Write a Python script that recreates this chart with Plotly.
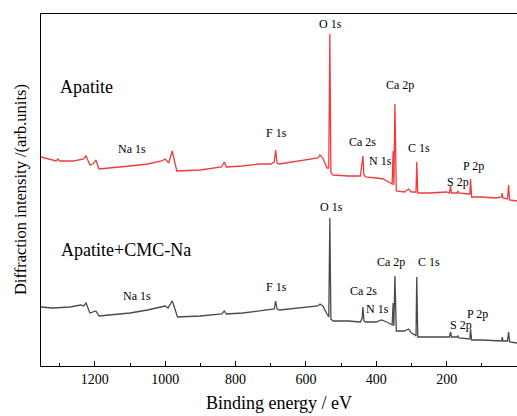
import plotly.graph_objects as go

# Binding energy (eV) and intensity (arb. units)
be_apatite = [1353, 1320, 1310, 1305, 1300, 1260, 1232, 1225, 1214, 1205, 1197, 1188, 1150, 1100, 1050,
              1010, 1000, 990, 980, 975, 967, 900, 840, 832, 826, 780, 731, 700, 690, 686, 682, 675,
              620, 566, 560, 552, 540, 535, 532, 529, 523, 480, 445, 440, 438, 435, 430, 400, 380,
              370, 355, 352, 350, 347, 343, 320, 308, 300, 287, 285, 282, 250, 200, 192, 189, 186,
              170, 168, 165, 140, 134, 132, 129, 100, 60, 44, 42, 40, 27, 24, 21, 0]
int_apatite = [209, 206, 205, 207, 205, 205, 207, 210, 201, 202, 206, 197, 198, 200, 202,
               205, 207, 203, 215, 208, 195, 196, 199, 204, 199, 200, 202, 202, 204, 216, 203, 202,
               205, 208, 211, 208, 198, 198, 332, 194, 191, 190, 190, 201, 210, 191, 189, 188, 187,
               185, 182, 215, 181, 262, 175, 174, 177, 174, 174, 204, 173, 173, 174, 173, 180, 173,
               173, 175, 173, 172, 172, 187, 169, 169, 168, 169, 173, 168, 167, 181, 166, 165]

be_cmc = [1353, 1320, 1270, 1240, 1232, 1225, 1214, 1205, 1197, 1188, 1150, 1100, 1050,
          1010, 1000, 992, 980, 975, 965, 900, 840, 832, 826, 780, 731, 700, 690, 686, 682, 675,
          620, 566, 560, 552, 540, 535, 532, 529, 523, 480, 445, 440, 438, 435, 430, 400, 385,
          370, 355, 352, 350, 347, 343, 320, 308, 300, 290, 287, 285, 282, 250, 200, 192, 189, 186,
          170, 168, 165, 140, 134, 132, 129, 100, 60, 44, 42, 40, 27, 24, 21, 0]
int_cmc = [59, 58, 59, 61, 60, 63, 53, 54, 55, 50, 51, 53, 56,
           59, 60, 58, 65, 60, 49, 50, 52, 55, 52, 53, 55, 56, 57, 65, 57, 56,
           58, 60, 62, 60, 52, 49, 148, 47, 45, 45, 44, 48, 59, 45, 44, 44, 46,
           44, 41, 63, 40, 90, 35, 35, 37, 33, 31, 30, 89, 29, 29, 29, 29, 34, 29,
           29, 30, 28, 27, 27, 37, 26, 26, 25, 25, 29, 25, 25, 34, 24, 23]

# Peak labels: (text, binding energy, intensity)
labels_apatite = [("Na 1s", 1094, 217), ("F 1s", 685, 233), ("O 1s", 529, 342), ("Ca 2p", 333, 281),
                  ("Ca 2s", 438, 224), ("N 1s", 387, 205), ("C 1s", 279, 218), ("S 2p", 168, 184),
                  ("P 2p", 123, 200)]
labels_cmc = [("Na 1s", 1080, 70), ("F 1s", 683, 79), ("O 1s", 526, 159), ("Ca 2p", 359, 104),
              ("C 1s", 251, 104), ("Ca 2s", 435, 75), ("N 1s", 396, 57), ("S 2p", 160, 41),
              ("P 2p", 112, 52)]
sample_names = [("Apatite", 1305, 279), ("Apatite+CMC-Na", 1302, 116)]

x_ticks = [1200, 1000, 800, 600, 400, 200, 0]

FONT = "Liberation Serif"
RED = "#f23a3a"
GRAY = "#4a4a4a"

fig = go.Figure()
fig.add_trace(go.Scatter(x=be_apatite, y=int_apatite, mode="lines",
                         line=dict(color=RED, width=1.3), showlegend=False))
fig.add_trace(go.Scatter(x=be_cmc, y=int_cmc, mode="lines",
                         line=dict(color=GRAY, width=1.3), showlegend=False))

annotations = []
for t, x, y in labels_apatite + labels_cmc:
    annotations.append(dict(text=t, x=x, y=y, xref="x", yref="y", showarrow=False,
                            font=dict(family=FONT, size=12, color="black"),
                            xanchor="center", yanchor="middle"))
for t, x, y in sample_names:
    annotations.append(dict(text=t, x=x, y=y, xref="x", yref="y", showarrow=False,
                            font=dict(family=FONT, size=18, color="black"),
                            xanchor="left", yanchor="middle"))
annotations.append(dict(text="Diffraction intensity /(arb.units)", x=-0.044, y=0.50,
                        xref="paper", yref="paper", showarrow=False, textangle=-90,
                        font=dict(family=FONT, size=16.5, color="black"),
                        xanchor="center", yanchor="middle"))

fig.update_layout(
    width=517, height=416,
    margin=dict(l=41, r=0, t=14, b=50),
    plot_bgcolor="white", paper_bgcolor="white",
    font=dict(family=FONT),
    annotations=annotations,
    xaxis=dict(range=[1353, 0], tickvals=x_ticks, ticks="inside", ticklen=5, tickwidth=1.2,
               tickcolor="black", showline=True, linecolor="black", linewidth=1.3, mirror=True,
               showgrid=False, zeroline=False,
               minor=dict(dtick=100, ticks="inside", ticklen=3, tickcolor="black", tickwidth=1.2),
               tickfont=dict(family=FONT, size=14, color="black"),
               title=dict(text="Binding energy / eV", font=dict(family=FONT, size=18, color="black"),
                          standoff=10)),
    yaxis=dict(range=[0, 352], showticklabels=False, ticks="", showline=True, linecolor="black",
               linewidth=1.3, mirror=False, showgrid=False, zeroline=False),
)

fig.write_html("out.html")
